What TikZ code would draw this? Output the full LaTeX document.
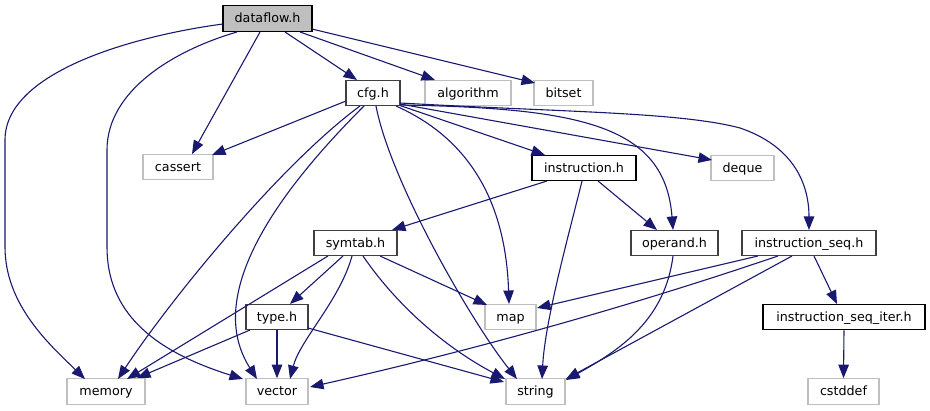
\documentclass[tikz,border=0pt]{standalone}
\usepackage{fontspec}
\setmainfont{DejaVu Sans}
\usetikzlibrary{arrows.meta,calc}
\definecolor{edgec}{HTML}{191970}
\definecolor{gr}{HTML}{BFBFBF}
\definecolor{dk}{HTML}{404040}
\begin{document}
\begin{tikzpicture}[x=1pt,y=-1pt,
  box/.style={draw, line width=1.1pt, minimum height=25.5pt, inner sep=0pt,
    text height=11pt, text depth=2pt, font=\fontsize{12.7}{15}\selectfont},
  dbox/.style={box, draw=dk},
  bbox/.style={box, draw=black},
  sbox/.style={box, draw=gr},
  e/.style={draw=edgec, line width=1.1pt, -{Triangle[length=13.5pt,width=10.5pt]}}]
\useasboundingbox (0,0) rectangle (930,411);
% nodes
\node[bbox, fill=gr, minimum width=89pt] (D) at (267.5,18.5) {dataflow.h};
\node[dbox, minimum width=54pt] (C) at (373,93) {cfg.h};
\node[sbox, minimum width=86pt] (A) at (468,93) {algorithm};
\node[sbox, minimum width=59pt] (B) at (563.5,93) {bitset};
\node[sbox, minimum width=70pt] (CA) at (178,167) {cassert};
\node[bbox, minimum width=104pt] (I) at (584,168) {instruction.h};
\node[sbox, minimum width=63pt] (DQ) at (742.5,168) {deque};
\node[dbox, minimum width=83pt] (S) at (355.5,243) {symtab.h};
\node[dbox, minimum width=87pt] (O) at (674.5,243) {operand.h};
\node[dbox, minimum width=134pt] (IS) at (809,243) {instruction\_seq.h};
\node[dbox, minimum width=62pt] (T) at (277,317) {type.h};
\node[sbox, minimum width=51pt] (M) at (510.5,317) {map};
\node[bbox, minimum width=162pt] (IT) at (844,317) {instruction\_seq\_iter.h};
\node[sbox, minimum width=78pt] (ME) at (106,391.5) {memory};
\node[sbox, minimum width=62pt] (V) at (277,391.5) {vector};
\node[sbox, minimum width=59pt] (ST) at (535.5,391.5) {string};
\node[sbox, minimum width=71pt] (CD) at (843.5,391.5) {cstddef};
% edges from dataflow.h
\draw[e] ($(D)+(-44.5,5.5)$) .. controls (140,35) and (5,70) .. (5,140) -- (5,247)
  .. controls (5,305) and (50,345) .. ($(ME)+(-21,-12.5)$);
\draw[e] ($(D)+(-30.5,13.5)$) .. controls (175,50) and (107,90) .. (107,150) -- (107,247)
  .. controls (107,310) and (150,350) .. ($(V)+(-34,-12.5)$);
\draw[e] ($(D)+(-7.5,13.5)$) -- ($(CA)+(14,-13)$);
\draw[e] ($(D)+(17.5,13.5)$) -- ($(C)+(-16,-13)$);
\draw[e] ($(D)+(32.5,13.5)$) -- ($(A)+(-33,-13)$);
\draw[e] ($(D)+(44.5,10.5)$) -- ($(B)+(-28.5,-10)$);
% edges from cfg.h
\draw[e] ($(C)+(-27,8)$) -- ($(CA)+(34,-12)$);
\draw[e] ($(C)+(-13,13)$) .. controls (280,165) and (170,300) .. ($(ME)+(12,-12.5)$);
\draw[e] ($(C)+(-9,13)$) .. controls (290,180) and (200,290) .. ($(V)+(-20,-12.5)$);
\draw[e] ($(C)+(3,13)$) .. controls (390,180) and (470,320) .. ($(ST)+(-18.5,-12.5)$);
\draw[e] ($(C)+(23,13)$) .. controls (450,130) and (505,180) .. ($(M)+(-1.5,-13)$);
\draw[e] ($(C)+(27,12.5)$) -- ($(I)+(-39,-13)$);
\draw[e] ($(C)+(27,11)$) -- ($(DQ)+(-30.5,-8)$);
\draw[e] ($(C)+(27,12)$) .. controls (580,108) and (665,125) .. ($(O)+(-1.5,-13)$);
\draw[e] ($(C)+(27,10)$) .. controls (560,112) and (680,112) .. (740,128)
  .. controls (790,145) and (809,180) .. ($(IS)+(0,-13)$);
% edges from instruction.h
\draw[e] ($(I)+(-37,13)$) -- ($(S)+(36.5,-13)$);
\draw[e] ($(I)+(-2,13)$) .. controls (570,230) and (545,320) .. ($(ST)+(6.5,-12.5)$);
\draw[e] ($(I)+(14,13)$) -- ($(O)+(-17.5,-13)$);
% edges from symtab.h
\draw[e] ($(S)+(-27.5,13)$) -- ($(ME)+(21,-12.5)$);
\draw[e] ($(S)+(-12.5,13)$) -- ($(T)+(13,-13)$);
\draw[e] ($(S)+(-3.5,13)$) .. controls (340,300) and (300,340) .. ($(V)+(13,-12.5)$);
\draw[e] ($(S)+(7.5,13)$) .. controls (400,310) and (450,350) .. ($(ST)+(-30.5,-12.5)$);
\draw[e] ($(S)+(24.5,13)$) -- ($(M)+(-23.5,-12)$);
% edges from type.h
\draw[e] ($(T)+(-27,13)$) -- ($(ME)+(31,-13.5)$);
\draw[e] (T.south) -- (V.north);
\draw[e] ($(T)+(31,11)$) -- ($(ST)+(-31.5,-9.5)$);
% edges from operand.h
\draw[e] ($(O)+(-1.5,13)$) .. controls (665,320) and (620,350) .. ($(ST)+(30.5,-11.5)$);
% edges from instruction_seq.h
\draw[e] ($(IS)+(-51,13)$) -- ($(M)+(26.5,-9)$);
\draw[e] ($(IS)+(-31,13)$) .. controls (622,309) and (466,352) .. ($(V)+(33,-4.5)$);
\draw[e] ($(IS)+(-17,13)$) -- ($(ST)+(30.5,-12.5)$);
\draw[e] ($(IS)+(5,13)$) -- ($(IT)+(-7,-13)$);
% edge from instruction_seq_iter.h
\draw[e] (IT.south) -- (CD.north);
\end{tikzpicture}
\end{document}
